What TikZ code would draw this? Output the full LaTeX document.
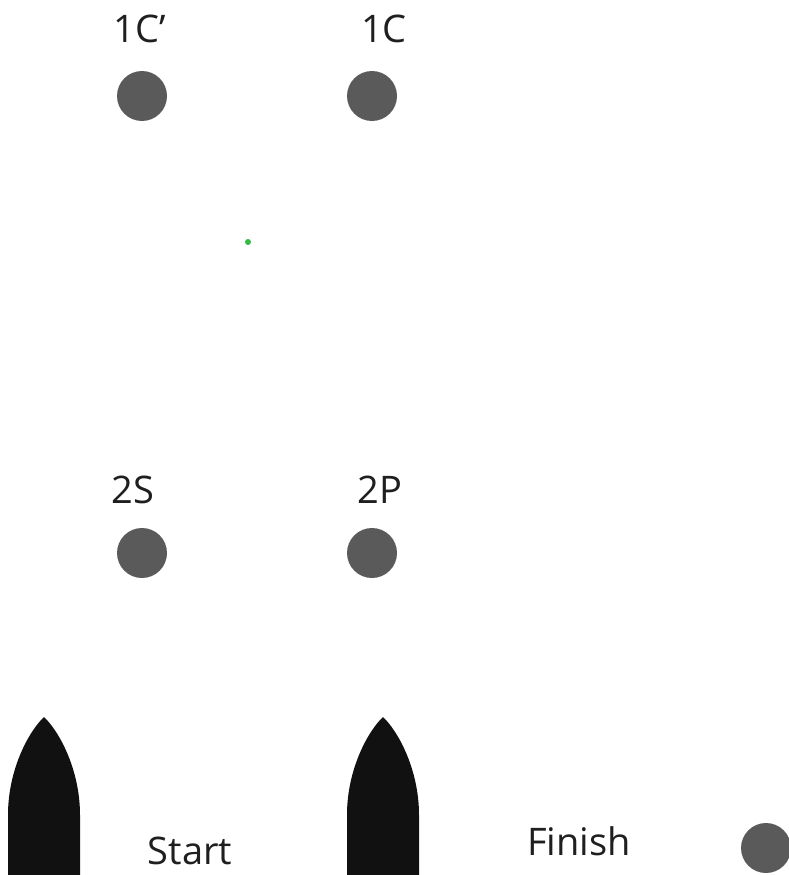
\documentclass[tikz,border=0pt]{standalone}
\usepackage{fontspec}
\setmainfont{Open Sans}
\definecolor{dotgray}{HTML}{5A5A5A}
\definecolor{buoy}{HTML}{111111}
\definecolor{mark}{HTML}{33BB44}
\begin{document}
\begin{tikzpicture}[x=1pt,y=-1pt,
  dot/.style={circle,fill=dotgray,inner sep=0pt,minimum size=50pt},
  lbl/.style={font=\fontsize{38}{40}\selectfont,inner sep=0pt,text=black!88}]
\useasboundingbox (0,0) rectangle (789,875);
\node[lbl] (l1cp) at (140,29) {1C’};
\node[lbl] (l1c) at (384,29) {1C};
\node[dot] (d1cp) at (142,96) {};
\node[dot] (d1c) at (372,96) {};
\node[circle,fill=mark,inner sep=0pt,minimum size=6pt] (g) at (248,242) {};
\node[lbl] (l2s) at (133,490) {2S};
\node[lbl] (l2p) at (380,490) {2P};
\node[dot] (d2s) at (142,553) {};
\node[dot] (d2p) at (372,553) {};
\fill[buoy] (8,880) -- (8,815) .. controls (8,768) and (30,730) .. (44,717) .. controls (58,730) and (80,768) .. (80,815) -- (80,880) -- cycle;
\fill[buoy] (347,880) -- (347,815) .. controls (347,768) and (369,730) .. (383,717) .. controls (397,730) and (419,768) .. (419,815) -- (419,880) -- cycle;
\node[lbl] (start) at (190,851) {Start};
\node[lbl] (finish) at (579,841) {Finish};
\node[dot] (dfin) at (766,848) {};
\end{tikzpicture}
\end{document}
